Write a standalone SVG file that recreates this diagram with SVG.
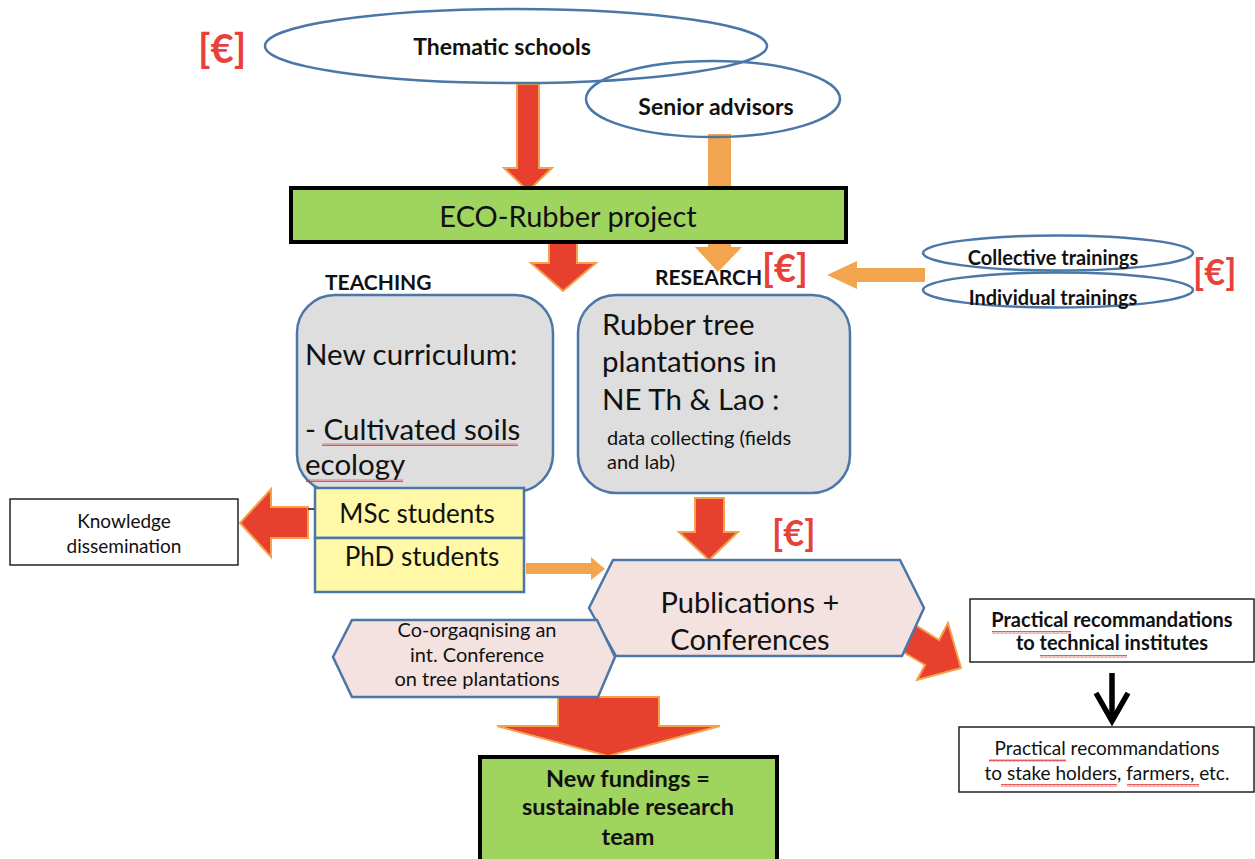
<svg xmlns="http://www.w3.org/2000/svg" width="1255" height="859" viewBox="0 0 1255 859">
<defs>
<pattern id="wavy" width="4" height="3" patternUnits="userSpaceOnUse"><path d="M0,2.5 L1,0.5 L2,2.5 L3,0.5 L4,2.5" fill="none" stroke="#e03030" stroke-width="0.8"/></pattern>
<style>
.t{font-family:Lato,"Open Sans","Liberation Sans",sans-serif;fill:#111}
.b{font-weight:bold}
.eur{font-family:Lato,"Liberation Sans",sans-serif;fill:#e8413a;font-weight:bold}
.ell{fill:none;stroke:#4a76a8;stroke-width:2.5}
.rnd{fill:#dedede;stroke:#4a76a8;stroke-width:2.5}
.hex{fill:#f4e2e0;stroke:#4a76a8;stroke-width:2.5}
.yel{fill:#fff8a6;stroke:#4a76a8;stroke-width:2.5}
.grn{fill:#9fd45f;stroke:#000;stroke-width:4}
.wb{fill:#fff;stroke:#222;stroke-width:1.5}
.ra{fill:#e8402f;stroke:#f5a04a;stroke-width:2;stroke-linejoin:miter}
.oa{fill:#f3a44f}
.sq{fill:url(#wavy)}
</style>
</defs>
<rect width="1255" height="859" fill="#fff"/>

<g id="connectors">
<polygon class="ra" points="517,84 539,84 539,168 552,168 528,191 504,168 517,168"/>
<rect class="oa" x="708" y="134" width="23" height="56"/>
<polygon class="oa" points="708,242 731,242 731,247 742,247 718,272 695,247 708,247"/>
<polygon class="ra" points="549,242 577,242 577,263 596,263 563,291 531,263 549,263"/>
<polygon class="oa" points="925,268 857,268 857,261 827,275 857,289 857,282 925,282"/>
<polygon class="ra" points="308,507 271,507 271,489 240,523 271,557 271,538 308,538"/>
<polygon class="oa" points="526,563 591,563 591,557 605,569 591,580 591,574 526,574"/>
<polygon class="ra" points="695,498 724,498 724,532 738,532 709,560 679,532 695,532"/>
<polygon class="ra" points="903,617 939,640 948,623 961,668 917,680 925,665 888,643"/>
<polygon class="ra" points="558,697 659,697 659,726 720,726 608,756 497,726 558,726"/>
<g stroke="#000" stroke-width="5.5" fill="none">
<line x1="1112" y1="673" x2="1112" y2="720"/>
<polyline points="1096,693 1112,721 1128,693" stroke-linejoin="miter"/>
</g>
</g>

<g id="thematic-schools">
<ellipse class="ell" cx="516" cy="46" rx="251" ry="37"/>
<text class="t b" x="502" y="55" font-size="23" text-anchor="middle">Thematic schools</text>
</g>
<g id="senior-advisors">
<ellipse class="ell" cx="713" cy="99" rx="127" ry="38"/>
<text class="t b" x="716" y="115" font-size="23" text-anchor="middle">Senior advisors</text>
</g>
<text class="eur" x="198" y="63" font-size="40">[€]</text>

<g id="eco-rubber">
<rect class="grn" x="291" y="188" width="555" height="54"/>
<text class="t" x="568" y="227" font-size="29" text-anchor="middle">ECO-Rubber project</text>
</g>

<text class="t b" x="325" y="290" font-size="21">TEACHING</text>
<text class="t b" x="655" y="285" font-size="21">RESEARCH</text>
<text class="eur" x="762" y="282" font-size="38">[€]</text>

<g id="collective-trainings">
<ellipse class="ell" cx="1058" cy="253" rx="135" ry="17.5"/>
<text class="t b" x="1053" y="265" font-size="20" text-anchor="middle">Collective trainings</text>
</g>
<g id="individual-trainings">
<ellipse class="ell" cx="1058" cy="290" rx="135" ry="17.5"/>
<text class="t b" x="1053" y="305" font-size="20" text-anchor="middle">Individual trainings</text>
</g>
<text class="eur" x="1193" y="285" font-size="36">[€]</text>

<g id="teaching-box">
<rect class="rnd" x="297" y="295" width="256" height="197" rx="38"/>
<text class="t" x="305" y="365" font-size="29.5">New curriculum:</text>
<text class="t" x="305" y="440" font-size="29.5">- Cultivated soils</text>
<text class="t" x="305" y="475" font-size="29.5">ecology</text>
<rect class="sq" x="322" y="443" width="196" height="3"/>
<rect class="sq" x="306" y="479" width="97" height="3"/>
</g>

<g id="research-box">
<rect class="rnd" x="578" y="295" width="272" height="198" rx="38"/>
<text class="t" x="602" y="335" font-size="29.5">Rubber tree</text>
<text class="t" x="602" y="372" font-size="29.5">plantations in</text>
<text class="t" x="602" y="410" font-size="29.5">NE Th &amp; Lao :</text>
<text class="t" x="607" y="445" font-size="20">data collecting (fields</text>
<text class="t" x="607" y="469" font-size="20">and lab)</text>
</g>

<g id="msc-students">
<rect class="yel" x="315" y="488" width="209" height="50"/>
<line x1="308" y1="509" x2="314" y2="509" stroke="#111" stroke-width="1.5"/>
<text class="t" x="417" y="523" font-size="26" text-anchor="middle">MSc students</text>
</g>
<g id="phd-students">
<rect class="yel" x="315" y="538" width="209" height="54"/>
<text class="t" x="422" y="566" font-size="26" text-anchor="middle">PhD students</text>
</g>

<g id="knowledge">
<rect class="wb" x="10" y="499" width="228" height="66"/>
<text class="t" x="124" y="528" font-size="19" text-anchor="middle">Knowledge</text>
<text class="t" x="124" y="553" font-size="19" text-anchor="middle">dissemination</text>
</g>

<text class="eur" x="772" y="546" font-size="36">[€]</text>

<g id="publications">
<polygon class="hex" points="613,560 900,560 924,608 902,656 616,656 589,608"/>
<text class="t" x="750" y="613" font-size="29" text-anchor="middle">Publications +</text>
<text class="t" x="750" y="650" font-size="29" text-anchor="middle">Conferences</text>
</g>

<g id="co-organising">
<polygon class="hex" points="352,620 597,620 615,657 598,697 352,697 333,657"/>
<text class="t" x="477" y="637" font-size="20" text-anchor="middle">Co-orgaqnising an</text>
<text class="t" x="477" y="662" font-size="20" text-anchor="middle">int. Conference</text>
<text class="t" x="477" y="686" font-size="20" text-anchor="middle">on tree plantations</text>
</g>

<g id="new-fundings">
<rect class="grn" x="480" y="757" width="297" height="104"/>
<text class="t b" x="628" y="787" font-size="23.5" text-anchor="middle">New fundings =</text>
<text class="t b" x="628" y="815" font-size="23.5" text-anchor="middle">sustainable research</text>
<text class="t b" x="628" y="845" font-size="23.5" text-anchor="middle">team</text>
</g>

<g id="rec-technical">
<rect class="wb" x="970" y="599" width="284" height="63"/>
<text class="t b" x="1112" y="627" font-size="20" text-anchor="middle">Practical recommandations</text>
<text class="t b" x="1112" y="650" font-size="20" text-anchor="middle">to technical institutes</text>
<rect class="sq" x="992" y="631" width="79" height="3"/>
<rect class="sq" x="1040" y="655" width="87" height="3"/>
</g>

<g id="rec-stakeholders">
<rect class="wb" x="959" y="727" width="295" height="65"/>
<text class="t" x="1107" y="755" font-size="19" text-anchor="middle">Practical recommandations</text>
<text class="t" x="1107" y="780" font-size="19" text-anchor="middle">to stake holders, farmers, etc.</text>
<rect class="sq" x="989" y="759" width="77" height="3"/>
<rect class="sq" x="1001" y="784" width="116" height="3"/>
<rect class="sq" x="1127" y="784" width="72" height="3"/>
</g>
</svg>
